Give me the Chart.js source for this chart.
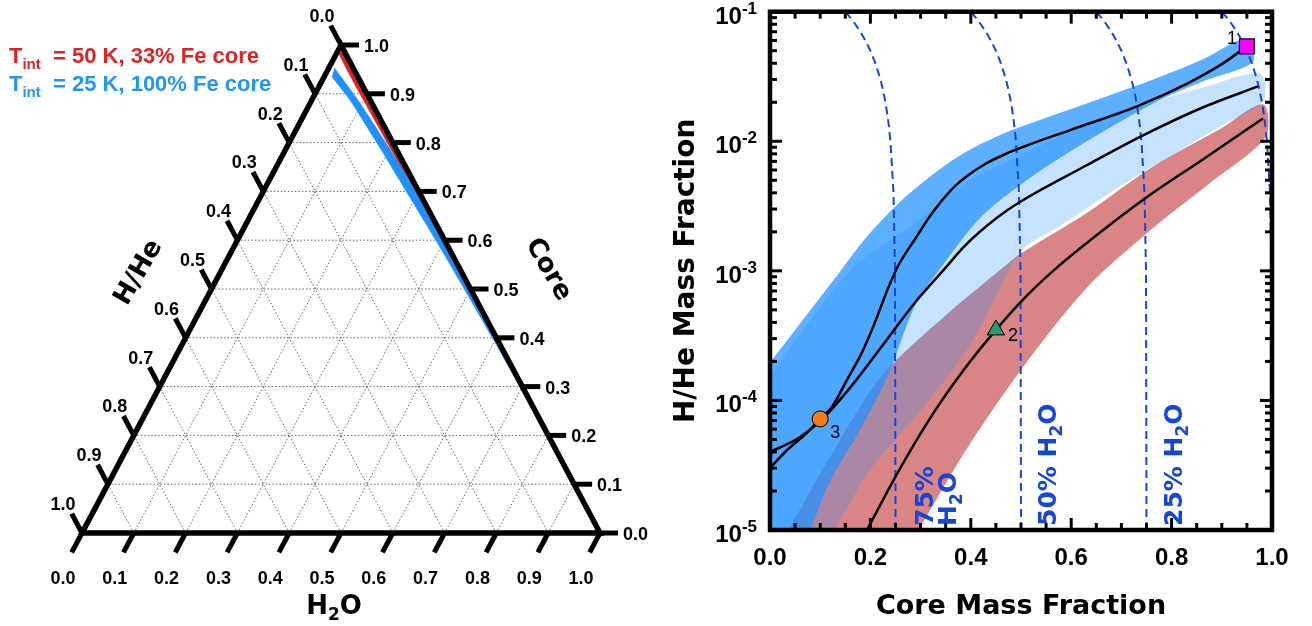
<!DOCTYPE html>
<html>
<head>
<meta charset="utf-8">
<script src="https://cdn.jsdelivr.net/npm/chart.js@4.4.1/dist/chart.umd.min.js"></script>
<style>
  html, body { margin: 0; padding: 0; background: #fff; }
  #wrap { position: relative; width: 1312px; height: 626px; }
  #tern { position: absolute; left: 0; top: 0; }
  #mass { position: absolute; left: 660px; top: 0; }
</style>
</head>
<body>
<div id="wrap">
  <canvas id="tern" width="660" height="626"></canvas>
  <canvas id="mass" width="652" height="626"></canvas>
</div>
<script>
// ---------- ternary panel data ----------
const ternTicks = [0, 0.1, 0.2, 0.3, 0.4, 0.5, 0.6, 0.7, 0.8, 0.9, 1.0];
const ternTickLabels = ['0.0', '0.1', '0.2', '0.3', '0.4', '0.5', '0.6', '0.7', '0.8', '0.9', '1.0'];
const ternGrid = [0.1, 0.2, 0.3, 0.4, 0.5, 0.6, 0.7, 0.8, 0.9];

// bands: inner edge (larger H/He) and outer edge, top to bottom
const blueInCore = [0.935, 0.887, 0.80, 0.70, 0.60, 0.50, 0.40, 0.30, 0.27];
const blueInHHe = [0.050, 0.039, 0.031, 0.024, 0.017, 0.012, 0.008, 0.004, 0.0];
const blueOutCore = [0.953, 0.887, 0.80, 0.70, 0.60, 0.50, 0.40, 0.30, 0.27];
const blueOutHHe = [0.036, 0.0236, 0.0135, 0.006, 0.002, 0.0, 0.0, 0.0, 0.0];
const redInCore = [0.982, 0.95, 0.88, 0.80, 0.70, 0.62, 0.56];
const redInHHe = [0.013, 0.014, 0.013, 0.011, 0.009, 0.005, 0.0];
const redOutCore = [0.988, 0.95, 0.88, 0.80, 0.70, 0.62, 0.56];
const redOutHHe = [0.003, 0.003, 0.004, 0.003, 0.002, 0.0, 0.0];

// ---------- mass fraction panel data ----------
const xTicks = [0, 0.2, 0.4, 0.6, 0.8, 1.0];
const xTickLabels = ['0.0', '0.2', '0.4', '0.6', '0.8', '1.0'];
const xMinorTicks = [0.05, 0.1, 0.15, 0.25, 0.3, 0.35, 0.45, 0.5, 0.55, 0.65, 0.7, 0.75, 0.85, 0.9, 0.95];
const yDecades = [1e-5, 1e-4, 1e-3, 1e-2, 1e-1];
const yExponents = ['-5', '-4', '-3', '-2', '-1'];
const yMinorMult = [2, 3, 4, 5, 6, 7, 8, 9];

// model curves (core mass fraction, H/He mass fraction)
const curveACore = [0, 0.03, 0.07, 0.10, 0.124, 0.155, 0.183, 0.209, 0.235, 0.255, 0.289, 0.323, 0.3625, 0.392, 0.428, 0.468, 0.508, 0.598, 0.731, 0.831, 0.896, 0.95];
const curveAHHe = [3.0e-5, 4.0e-5, 5.47e-5, 7.2e-5, 9.0e-5, 1.48e-4, 2.34e-4, 4.0e-4, 7.3e-4, 1.09e-3, 1.76e-3, 2.8e-3, 4.28e-3, 5.38e-3, 6.65e-3, 7.94e-3, 9.16e-3, 1.22e-2, 1.86e-2, 2.79e-2, 3.85e-2, 5.4e-2];
const curveBCore = [0, 0.056, 0.106, 0.163, 0.209, 0.249, 0.289, 0.349, 0.388, 0.454, 0.498, 0.631, 0.743, 0.863, 0.972];
const curveBHHe = [4.0e-5, 5.1e-5, 7.3e-5, 1.30e-4, 2.22e-4, 3.58e-4, 5.7e-4, 1.05e-3, 1.56e-3, 2.60e-3, 3.40e-3, 6.53e-3, 1.11e-2, 1.83e-2, 2.65e-2];
const curveCCore = [0.183, 0.255, 0.323, 0.388, 0.45, 0.502, 0.564, 0.631, 0.751, 0.863, 0.982];
const curveCHHe = [8.4e-6, 2.8e-5, 7.7e-5, 1.76e-4, 3.5e-4, 5.9e-4, 1.0e-3, 1.64e-3, 3.71e-3, 7.27e-3, 1.5e-2];

// spread bands: upper and lower edges, left to right
const bandAUpCore = [0, 0.143, 0.189, 0.255, 0.323, 0.388, 0.454, 0.508, 0.631, 0.763, 0.863, 0.946];
const bandAUpHHe = [1.96e-4, 1.03e-3, 1.76e-3, 3.3e-3, 5.5e-3, 8.2e-3, 1.1e-2, 1.33e-2, 1.96e-2, 3.0e-2, 4.3e-2, 6.1e-2];
const bandALoCore = [0, 0.060, 0.120, 0.179, 0.235, 0.289, 0.343, 0.418, 0.508, 0.631, 0.763, 0.863, 0.962];
const bandALoHHe = [7.7e-6, 7.7e-6, 2.4e-5, 5.9e-5, 1.56e-4, 5.4e-4, 1.09e-3, 2.55e-3, 4.9e-3, 1.0e-2, 1.96e-2, 2.9e-2, 4.1e-2];
const bandBUpCore = [0, 0.163, 0.289, 0.388, 0.508, 0.663, 0.763, 0.863, 0.976];
const bandBUpHHe = [1.56e-4, 1.03e-3, 2.34e-3, 4.75e-3, 8.1e-3, 1.56e-2, 2.03e-2, 2.6e-2, 3.33e-2];
const bandBLoCore = [0, 0.100, 0.199, 0.309, 0.398, 0.502, 0.578, 0.697, 0.831, 0.896, 0.982];
const bandBLoHHe = [7.7e-6, 7.7e-6, 2.9e-5, 9.2e-5, 2.65e-4, 1.43e-3, 2.22e-3, 4.5e-3, 9.2e-3, 1.30e-2, 2.03e-2];
const bandRUpCore = [0.020, 0.139, 0.223, 0.349, 0.468, 0.498, 0.631, 0.763, 0.896, 0.982];
const bandRUpHHe = [7.7e-6, 4.9e-5, 1.56e-4, 4.5e-4, 1.09e-3, 1.35e-3, 2.8e-3, 6.4e-3, 1.24e-2, 1.93e-2];
const bandRLoCore = [0.279, 0.388, 0.502, 0.631, 0.763, 0.876, 0.988];
const bandRLoHHe = [7.7e-6, 4.0e-5, 1.76e-4, 7.4e-4, 2.14e-3, 4.75e-3, 1.09e-2];

// lines of constant water fraction, sampled in H/He
const isoH2O = [0.75, 0.5, 0.25, 0];
const isoPercent = ['75%', '50%', '25%', null];
const isoHHe = [1e-5, 1e-3, 4e-3, 0.01, 0.015, 0.02, 0.025, 0.03, 0.04, 0.05, 0.06, 0.07, 0.08, 0.09, 0.1];

// labelled planets
const markerCore = [0.95, 0.45, 0.10];
const markerHHe = [0.054, 3.5e-4, 7.2e-5];
const markerNames = ['1', '2', '3'];

const NUM = '"Liberation Sans", Arial, sans-serif';
const TXT = '"DejaVu Sans", sans-serif';
const ISO_BLUE = '#1546d6';

function rich(ctx, parts, x, y, align, family) {
  // parts: [text, size, dy]
  const fam = family || NUM;
  let total = 0;
  const w = parts.map(p => { ctx.font = 'bold ' + p[1] + 'px ' + fam; const m = ctx.measureText(p[0]).width; total += m; return m; });
  let cx = align === 'right' ? x - total : align === 'center' ? x - total / 2 : x;
  ctx.textAlign = 'left';
  ctx.textBaseline = 'alphabetic';
  parts.forEach((p, i) => {
    ctx.font = 'bold ' + p[1] + 'px ' + fam;
    ctx.fillText(p[0], cx, y + (p[2] || 0));
    cx += w[i];
  });
}

// ---------- ternary ----------
function ternXY(core, hhe) { return { x: 1 - core / 2 - hhe, y: core }; }
function ternBand(inC, inH, outC, outH) {
  const pts = inC.map((c, i) => ternXY(c, inH[i]));
  for (let i = outC.length - 1; i >= 0; i--) pts.push(ternXY(outC[i], outH[i]));
  return pts;
}

const ternaryFrame = {
  id: 'ternaryFrame',
  beforeDatasetsDraw(chart) {
    const { ctx, scales: { x, y } } = chart;
    const P = (a, b) => [x.getPixelForValue(a), y.getPixelForValue(b)];
    ctx.save();
    ctx.strokeStyle = '#666';
    ctx.lineWidth = 1;
    ctx.setLineDash([1.5, 2]);
    const seg = (a, b) => { ctx.beginPath(); ctx.moveTo(a[0], a[1]); ctx.lineTo(b[0], b[1]); ctx.stroke(); };
    ternGrid.forEach(k => {
      seg(P(k / 2, k), P(1 - k / 2, k));             // constant core
      seg(P(1 - k, 0), P((1 - k) / 2, 1 - k));       // constant H/He
      seg(P(k, 0), P(k + (1 - k) / 2, 1 - k));       // constant H2O
    });
    ctx.restore();
  },
  afterDatasetsDraw(chart) {
    const { ctx, scales: { x, y } } = chart;
    const P = (a, b) => [x.getPixelForValue(a), y.getPixelForValue(b)];
    ctx.save();
    ctx.strokeStyle = '#000';
    ctx.lineWidth = 5.5;
    ctx.lineJoin = 'miter';
    const A = P(0, 0), B = P(1, 0), C = P(0.5, 1);
    ctx.beginPath(); ctx.moveTo(A[0], A[1]); ctx.lineTo(B[0], B[1]); ctx.lineTo(C[0], C[1]); ctx.closePath(); ctx.stroke();

    const unit = (dx, dy) => { const l = Math.hypot(dx, dy); return [dx / l, dy / l]; };
    const sx = x.getPixelForValue(1) - x.getPixelForValue(0);
    const sy = y.getPixelForValue(1) - y.getPixelForValue(0);
    const dBottom = unit(-0.5 * sx, -1 * sy);
    const dLeft = unit(-0.5 * sx, 1 * sy);
    ctx.lineWidth = 5;
    ctx.fillStyle = '#000';
    const L = 22;
    ternTicks.forEach((k, i) => {
      const lab = ternTickLabels[i];
      let b = P(k, 0);                                   // H2O, bottom
      ctx.beginPath(); ctx.moveTo(b[0], b[1]); ctx.lineTo(b[0] + dBottom[0] * L, b[1] + dBottom[1] * L); ctx.stroke();
      rich(ctx, [[lab, 18]], b[0] - 19, 584, 'center');
      b = P((1 - k) / 2, 1 - k);                         // H/He, left
      ctx.beginPath(); ctx.moveTo(b[0], b[1]); ctx.lineTo(b[0] + dLeft[0] * L, b[1] + dLeft[1] * L); ctx.stroke();
      rich(ctx, [[lab, 18]], b[0] - 19, b[1] - 23, 'center');
      b = P(1 - k / 2, k);                               // core, right
      ctx.beginPath(); ctx.moveTo(b[0], b[1]); ctx.lineTo(b[0] + 18, b[1]); ctx.stroke();
      rich(ctx, [[lab, 18]], b[0] + 23, b[1] + 7, 'left');
    });

    // axis titles
    rich(ctx, [['H', 26], ['2', 17, 6], ['O', 26]], 334, 614, 'center', TXT);
    ctx.save(); ctx.translate(136, 271); ctx.rotate(-60 * Math.PI / 180);
    rich(ctx, [['H/He', 26]], 0, 10, 'center', TXT); ctx.restore();
    ctx.save(); ctx.translate(551, 268); ctx.rotate(60 * Math.PI / 180);
    rich(ctx, [['Core', 26]], 0, 10, 'center', TXT); ctx.restore();

    // legend
    ctx.fillStyle = '#dd2424';
    rich(ctx, [['T', 22], ['int', 15, 6], ['  = 50 K, 33% Fe core', 22]], 9, 63, 'left');
    ctx.fillStyle = '#2196f3';
    rich(ctx, [['T', 22], ['int', 15, 6], ['  = 25 K, 100% Fe core', 22]], 9, 91, 'left');
    ctx.restore();
  }
};

new Chart(document.getElementById('tern'), {
  type: 'line',
  data: {
    datasets: [
      { data: ternBand(redInCore, redInHHe, redOutCore, redOutHHe), fill: 'shape', backgroundColor: '#dd2222', borderColor: '#dd2222', borderWidth: 0.5, order: 2 },
      { data: ternBand(blueInCore, blueInHHe, blueOutCore, blueOutHHe), fill: 'shape', backgroundColor: '#1e90ff', borderColor: '#1e90ff', borderWidth: 0.5, order: 1 }
    ]
  },
  options: {
    responsive: false, animation: false, events: [],
    layout: { padding: { left: 82, right: 60, top: 45, bottom: 93 } },
    elements: { point: { radius: 0 }, line: { tension: 0.15 } },
    plugins: { legend: { display: false }, tooltip: { enabled: false } },
    scales: {
      x: { type: 'linear', min: 0, max: 1, display: false },
      y: { type: 'linear', min: 0, max: 1, display: false }
    }
  },
  plugins: [ternaryFrame]
});

// ---------- core mass fraction vs H/He ----------
function pts(xs, ys) { return xs.map((v, i) => ({ x: v, y: ys[i] })); }
function poly(upX, upY, loX, loY) { return pts(upX, upY).concat(pts(loX, loY).reverse()); }

const massFrame = {
  id: 'massFrame',
  afterDatasetsDraw(chart) {
    const { ctx, chartArea: a, scales: { x, y } } = chart;
    ctx.save();
    ctx.strokeStyle = '#000';
    ctx.lineWidth = 3;
    const tick = (x1, y1, x2, y2) => { ctx.beginPath(); ctx.moveTo(x1, y1); ctx.lineTo(x2, y2); ctx.stroke(); };
    xMinorTicks.forEach(v => { const p = x.getPixelForValue(v); tick(p, a.bottom, p, a.bottom - 7); tick(p, a.top, p, a.top + 7); });
    xTicks.forEach(v => { const p = x.getPixelForValue(v); tick(p, a.bottom, p, a.bottom - 12); tick(p, a.top, p, a.top + 12); });
    yDecades.forEach((d, i) => {
      let p = y.getPixelForValue(d);
      tick(a.left, p, a.left + 12, p); tick(a.right, p, a.right - 12, p);
      if (i < yDecades.length - 1) {
        yMinorMult.forEach(m => { p = y.getPixelForValue(d * m); tick(a.left, p, a.left + 7, p); tick(a.right, p, a.right - 7, p); });
      }
    });
    ctx.lineWidth = 4.5;
    ctx.strokeRect(a.left, a.top, a.right - a.left, a.bottom - a.top);

    // tick labels
    ctx.fillStyle = '#000';
    xTicks.forEach((v, i) => rich(ctx, [[xTickLabels[i], 24]], x.getPixelForValue(v), a.bottom + 35, 'center'));
    yDecades.forEach((d, i) => rich(ctx, [['10', 24], [yExponents[i], 17, -10]], a.left - 13, y.getPixelForValue(d) + 12, 'right'));

    // axis titles
    rich(ctx, [['Core Mass Fraction', 27]], (a.left + a.right) / 2, 614, 'center', TXT);
    ctx.save(); ctx.translate(a.left - 86, (a.top + a.bottom) / 2); ctx.rotate(-Math.PI / 2);
    rich(ctx, [['H/He Mass Fraction', 28]], 0, 10, 'center', TXT); ctx.restore();

    // water-fraction labels along the dashed lines
    ctx.fillStyle = ISO_BLUE;
    isoH2O.forEach((w, i) => {
      if (!isoPercent[i]) return;
      const px = x.getPixelForValue(1 - w);
      ctx.save(); ctx.translate(px + 34, a.bottom - 4); ctx.rotate(-Math.PI / 2);
      if (i === 0) {
        rich(ctx, [[isoPercent[i], 25]], 0, 3, 'left', TXT);
        rich(ctx, [['H', 25], ['2', 17, 6], ['O', 25]], 0, 26, 'left', TXT);
      } else {
        rich(ctx, [[isoPercent[i] + ' H', 25], ['2', 17, 6], ['O', 25]], 0, 1, 'left', TXT);
      }
      ctx.restore();
    });

    // planet numbers
    ctx.fillStyle = '#000';
    const mp = markerCore.map((c, i) => [x.getPixelForValue(c), y.getPixelForValue(markerHHe[i])]);
    ctx.font = '18px ' + NUM;
    ctx.textBaseline = 'alphabetic';
    ctx.textAlign = 'right'; ctx.fillText(markerNames[0], mp[0][0] - 10, mp[0][1] - 2);
    ctx.textAlign = 'left'; ctx.fillText(markerNames[1], mp[1][0] + 12, mp[1][1] + 11);
    ctx.fillText(markerNames[2], mp[2][0] + 10, mp[2][1] + 19);
    ctx.restore();
  }
};

const isoSets = isoH2O.map(w => ({
  data: isoHHe.map(h => ({ x: 1 - w - h, y: h })),
  borderColor: ISO_BLUE, borderWidth: 2, borderDash: [8, 5], tension: 0, fill: false, order: 3
}));

new Chart(document.getElementById('mass'), {
  type: 'line',
  data: {
    datasets: [
      { data: poly(bandRUpCore, bandRUpHHe, bandRLoCore, bandRLoHHe), fill: 'shape', backgroundColor: 'rgba(205,92,92,0.75)', borderColor: 'rgba(0,0,0,0)', borderWidth: 1, tension: 0.3, order: 6, clip: 0 },
      { data: poly(bandAUpCore, bandAUpHHe, bandALoCore, bandALoHHe), fill: 'shape', backgroundColor: 'rgba(30,144,255,0.72)', borderColor: 'rgba(0,0,0,0)', borderWidth: 1, tension: 0.3, order: 5, clip: 0 },
      { data: poly(bandBUpCore, bandBUpHHe, bandBLoCore, bandBLoHHe), fill: 'shape', backgroundColor: 'rgba(30,144,255,0.26)', borderColor: 'rgba(0,0,0,0)', borderWidth: 1, tension: 0.3, order: 4, clip: 0 },
      ...isoSets,
      { data: pts(curveACore, curveAHHe), borderColor: '#000', borderWidth: 2.5, cubicInterpolationMode: 'monotone', fill: false, order: 2 },
      { data: pts(curveBCore, curveBHHe), borderColor: '#000', borderWidth: 2.5, cubicInterpolationMode: 'monotone', fill: false, order: 2 },
      { data: pts(curveCCore, curveCHHe), borderColor: '#000', borderWidth: 2.5, cubicInterpolationMode: 'monotone', fill: false, order: 2 },
      { data: [{ x: markerCore[0], y: markerHHe[0] }], showLine: false, pointStyle: 'rect', pointRadius: 10.5, backgroundColor: '#ff00ff', borderColor: '#000', borderWidth: 1.2, order: 1 },
      { data: [{ x: markerCore[1], y: markerHHe[1] }], showLine: false, pointStyle: 'triangle', pointRadius: 10, backgroundColor: '#1e9e6e', borderColor: '#000', borderWidth: 1, order: 1 },
      { data: [{ x: markerCore[2], y: markerHHe[2] }], showLine: false, pointStyle: 'circle', pointRadius: 8, backgroundColor: '#f57c12', borderColor: '#000', borderWidth: 1, order: 1 }
    ]
  },
  options: {
    responsive: false, animation: false, events: [],
    layout: { padding: { left: 110, right: 40, top: 9, bottom: 96 } },
    elements: { point: { radius: 0 } },
    plugins: { legend: { display: false }, tooltip: { enabled: false } },
    scales: {
      x: { type: 'linear', min: 0, max: 1, display: false },
      y: { type: 'logarithmic', min: 1e-5, max: 1e-1, display: false }
    }
  },
  plugins: [massFrame]
});
</script>
</body>
</html>
